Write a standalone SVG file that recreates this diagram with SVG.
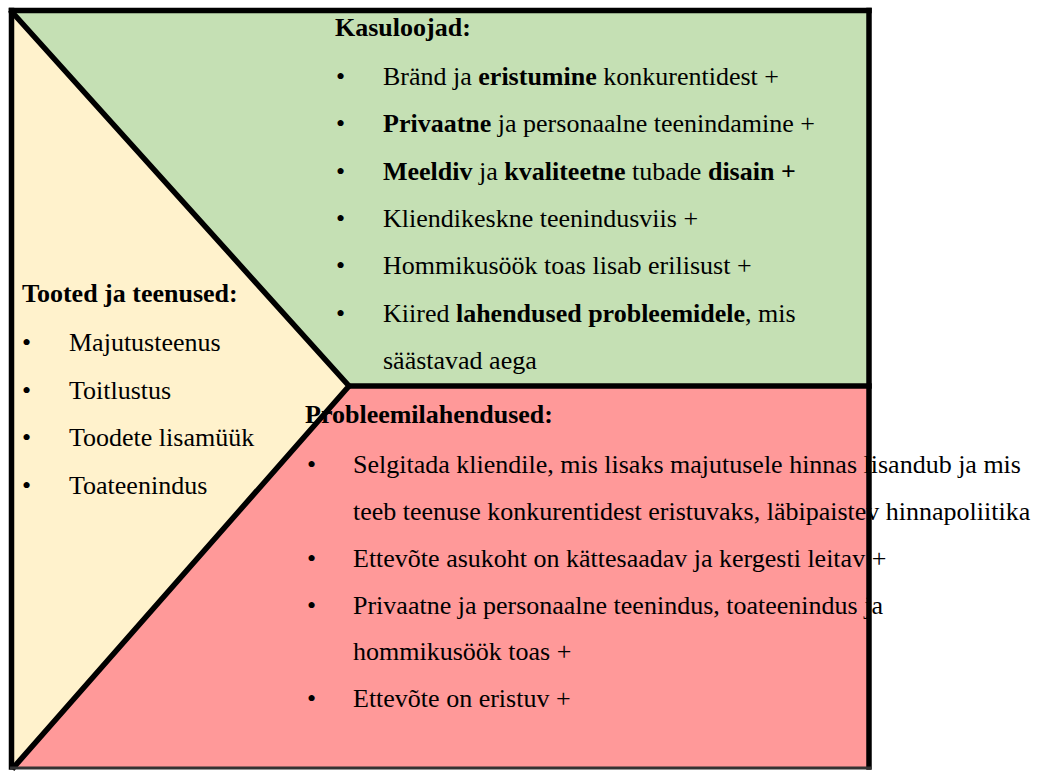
<svg xmlns="http://www.w3.org/2000/svg" width="1053" height="771" viewBox="0 0 1053 771">
<style>
text{font-family:'Liberation Serif','Noto Serif','DejaVu Serif','FreeSerif','Tinos','Times New Roman',Times,Georgia,serif;font-size:26px;fill:#000}
.b{font-weight:bold}
.edge{stroke:#000;stroke-width:5.5;fill:none;stroke-linecap:square;stroke-linejoin:miter}
</style>
<rect x="0" y="0" width="1053" height="771" fill="#fff"/>
<g id="products">
<polygon points="12,12 349,386 14,767" fill="#FFF2CC"/>
</g>
<g id="gains">
<polygon points="12,12 869,12 869,386 349,386" fill="#C5E0B4"/>
</g>
<g id="solutions">
<polygon points="349,386 868,386 868,767 14,767" fill="#FF9999"/>
</g>
<g id="products-text">
<text x="22" y="302" class="b">Tooted ja teenused:</text>
<text x="22" y="351">•</text><text x="69" y="351">Majutusteenus</text>
<text x="22" y="398.5">•</text><text x="69" y="398.5">Toitlustus</text>
<text x="22" y="446">•</text><text x="69" y="446">Toodete lisamüük</text>
<text x="22" y="493.5">•</text><text x="69" y="493.5">Toateenindus</text>
</g>
<g id="gains-text">
<text x="335" y="36" class="b">Kasuloojad:</text>
<text x="336" y="84.5">•</text><text x="383" y="84.5">Bränd ja <tspan class="b">eristumine</tspan> konkurentidest +</text>
<text x="336" y="132">•</text><text x="383" y="132"><tspan class="b">Privaatne</tspan> ja personaalne teenindamine +</text>
<text x="336" y="179.5">•</text><text x="383" y="179.5"><tspan class="b">Meeldiv</tspan> ja <tspan class="b">kvaliteetne</tspan> tubade <tspan class="b">disain +</tspan></text>
<text x="336" y="227">•</text><text x="383" y="227">Kliendikeskne teenindusviis +</text>
<text x="336" y="274">•</text><text x="383" y="274">Hommikusöök toas lisab erilisust +</text>
<text x="336" y="321.5">•</text><text x="383" y="321.5">Kiired <tspan class="b">lahendused probleemidele</tspan>, mis</text>
<text x="383" y="369">säästavad aega</text>
</g>
<g id="solutions-text">
<text x="305" y="423" class="b">Probleemilahendused:</text>
<text x="307" y="473">•</text><text x="353" y="473">Selgitada kliendile, mis lisaks majutusele hinnas lisandub ja mis</text>
<text x="353" y="520">teeb teenuse konkurentidest eristuvaks, läbipaistev hinnapoliitika</text>
<text x="307" y="566.5">•</text><text x="353" y="566.5">Ettevõte asukoht on kättesaadav ja kergesti leitav +</text>
<text x="307" y="613.5">•</text><text x="353" y="613.5">Privaatne ja personaalne teenindus, toateenindus ja</text>
<text x="353" y="660">hommikusöök toas +</text>
<text x="307" y="706.5">•</text><text x="353" y="706.5">Ettevõte on eristuv +</text>
</g>
<g id="connectors">
<line class="edge" x1="11.5" y1="10.5" x2="869" y2="10.5"/>
<line class="edge" x1="11.5" y1="10.5" x2="11.5" y2="767"/>
<line class="edge" x1="869" y1="10.5" x2="869" y2="767"/>
<line class="edge" x1="349" y1="386" x2="869" y2="386"/>
<polyline class="edge" points="12,12 349,386 14,767" stroke-linecap="butt"/>
<line x1="10" y1="768" x2="871" y2="768" stroke="#333" stroke-width="3"/>
</g>
</svg>
